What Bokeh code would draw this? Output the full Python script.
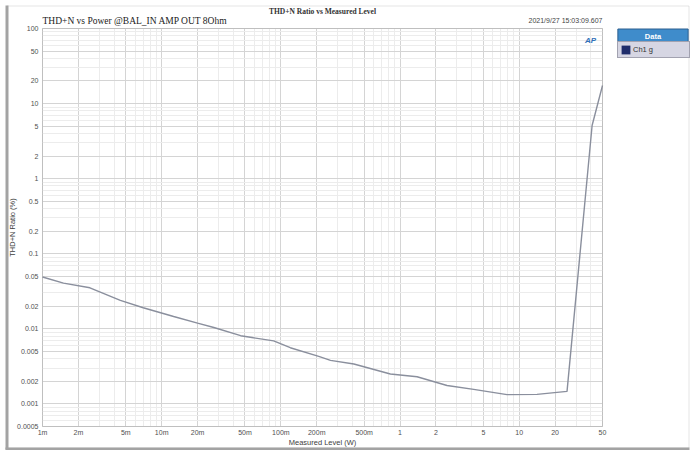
import math
from bokeh.plotting import figure
from bokeh.models import (Range1d, FixedTicker, CustomJSTickFormatter, Label,
                          BoxAnnotation, Legend, LegendItem, ColumnDataSource)
from bokeh.embed import file_html
from bokeh.resources import INLINE

# ---- data ----
level_w = [0.001, 0.0015, 0.0025, 0.0045, 0.007, 0.0126, 0.02, 0.0274, 0.046,
           0.059, 0.087, 0.12, 0.208, 0.261, 0.41, 0.83, 1.39, 2.48, 4.15,
           7.9, 14.1, 25.2, 40.9, 50]
thdn_pct = [0.049, 0.0406, 0.0352, 0.0239, 0.0191, 0.0146, 0.0119, 0.0104, 0.0081,
            0.0076, 0.0069, 0.0056, 0.0043, 0.0038, 0.0034, 0.0025, 0.0023, 0.00176,
            0.00156, 0.00133, 0.00134, 0.00147, 5.1, 17.4]

x_tick_values = [0.001, 0.002, 0.005, 0.01, 0.02, 0.05, 0.1, 0.2, 0.5, 1, 2, 5, 10, 20, 50]
x_tick_labels = ["1m", "2m", "5m", "10m", "20m", "50m", "100m", "200m", "500m",
                 "1", "2", "5", "10", "20", "50"]
y_tick_values = [0.0005, 0.001, 0.002, 0.005, 0.01, 0.02, 0.05, 0.1, 0.2, 0.5,
                 1, 2, 5, 10, 20, 50, 100]
y_tick_labels = ["0.0005", "0.001", "0.002", "0.005", "0.01", "0.02", "0.05", "0.1",
                 "0.2", "0.5", "1", "2", "5", "10", "20", "50", "100"]
minor_mults = [3, 4, 6, 7, 8, 9]

series_name = "Ch1 g"
legend_title = "Data"
chart_title = "THD+N Ratio vs Measured Level"
sub_title = "THD+N vs Power @BAL_IN AMP OUT 8Ohm"
time_stamp = "2021/9/27 15:03:09.607"
x_title = "Measured Level (W)"
y_title = "THD+N Ratio (%)"

# ---- layout (canvas pixels) ----
W, H = 694, 454
FL, FR, FT, FB = 42, 602, 28, 426   # plot-area edges

x_min, x_max = x_tick_values[0], x_tick_values[-1]
y_min, y_max = y_tick_values[0], y_tick_values[-1]

# the frame covers the whole canvas; ranges are widened so that the
# plot area [x_min, x_max] x [y_min, y_max] lands on the edges above
lx0, lx1 = math.log10(x_min), math.log10(x_max)
ppx = (FR - FL) / (lx1 - lx0)
ly0, ly1 = math.log10(y_min), math.log10(y_max)
ppy = (FB - FT) / (ly1 - ly0)
x_range = Range1d(10 ** (lx0 - FL / ppx), 10 ** (lx1 + (W - FR) / ppx))
y_range = Range1d(10 ** (ly0 - (H - FB) / ppy), 10 ** (ly1 + FT / ppy))

x_minor = [m * 10.0 ** k for k in range(-3, 2) for m in minor_mults if m * 10.0 ** k <= x_max]
y_minor = [m * 10.0 ** k for k in range(-4, 2) for m in minor_mults
           if y_min <= m * 10.0 ** k <= y_max]

p = figure(width=W, height=H, x_axis_type="log", y_axis_type="log",
           x_range=x_range, y_range=y_range,
           output_backend="svg", toolbar_location=None,
           min_border=0, min_border_left=0, min_border_right=0,
           min_border_top=0, min_border_bottom=0)
p.background_fill_color = "white"
p.border_fill_color = "white"
p.outline_line_color = None

fmt_code = """
const lt = Math.log10(tick);
for (let i = 0; i < vals.length; i++) {
  if (Math.abs(Math.log10(vals[i]) - lt) < 1e-6) return labels[i];
}
return "";
"""

for ax, vals, labs, minors, loc in (
        (p.xaxis[0], x_tick_values, x_tick_labels, x_minor, y_min),
        (p.yaxis[0], y_tick_values, y_tick_labels, y_minor, x_min)):
    ax.ticker = FixedTicker(ticks=vals, minor_ticks=minors)
    ax.formatter = CustomJSTickFormatter(args=dict(vals=vals, labels=labs), code=fmt_code)
    ax.bounds = (vals[0], vals[-1])
    ax.fixed_location = loc
    ax.axis_line_color = None
    ax.major_tick_line_color = None
    ax.minor_tick_line_color = None
    ax.major_tick_out = 0
    ax.major_tick_in = 0
    ax.minor_tick_out = 0
    ax.minor_tick_in = 0
    ax.major_label_text_font = "Liberation Sans"
    ax.major_label_text_font_size = "7px"
    ax.major_label_text_color = "#505050"
    ax.axis_label_text_font = "Liberation Sans"
    ax.axis_label_text_font_size = "7.5px"
    ax.axis_label_text_font_style = "normal"
    ax.axis_label_text_color = "#404040"

p.xaxis.axis_label = x_title
p.yaxis.axis_label = y_title
p.xaxis.major_label_standoff = 2
p.yaxis.major_label_standoff = 4
p.xaxis.axis_label_standoff = -1
p.yaxis.axis_label_standoff = -3

p.xgrid[0].cross_bounds = (y_min, y_max)
p.ygrid[0].cross_bounds = (x_min, x_max)
for g in (p.xgrid[0], p.ygrid[0]):
    g.grid_line_color = "#d4d4d4"
    g.grid_line_width = 1
    g.minor_grid_line_color = "#ececec"
    g.minor_grid_line_width = 1

# plot-area border
p.add_layout(BoxAnnotation(left=x_min, right=x_max, bottom=y_min, top=y_max,
                           fill_alpha=0, line_color="#8f8f8f", line_width=1))

src = ColumnDataSource(data=dict(x=level_w, y=thdn_pct))
line = p.line("x", "y", source=src, line_color="#8a8f9d", line_width=1.4)

# zero-size square renderer: only supplies the filled swatch of the legend
swatch = p.rect("x", "y", source=src, width=0, height=0,
                fill_color="#1f2d6b", line_alpha=0)


def canvas_box(l, r, t, b, **kw):
    return BoxAnnotation(left=l, right=r, top=t, bottom=b,
                         left_units="canvas", right_units="canvas",
                         top_units="canvas", bottom_units="canvas", **kw)


# outer frame of the whole chart
p.add_layout(canvas_box(6.5, 688.5, 5.5, 447.5, fill_alpha=0,
                        line_color="#a6a6a6", line_width=1))
p.add_layout(canvas_box(5, 8, 5, 449, fill_color="#a3a3a3", fill_alpha=1, line_alpha=0))
p.add_layout(canvas_box(5, 689, 447, 449.5, fill_color="#a3a3a3", fill_alpha=1,
                        line_alpha=0))

legend = Legend(items=[LegendItem(label=series_name, renderers=[swatch])],
                location=(617, H - 58), orientation="vertical",
                background_fill_color="#d6d6e3", background_fill_alpha=1,
                border_line_color="#6e6e7e", border_line_width=1,
                padding=2, margin=0, spacing=0, label_standoff=2,
                glyph_width=11, glyph_height=11, label_width=54, label_height=9,
                label_text_font="Liberation Sans", label_text_font_size="7.5px",
                label_text_color="#333333")
p.add_layout(legend)

# legend header
p.add_layout(Label(x=652.5, y=36, x_units="canvas", y_units="canvas", text=legend_title,
                   text_align="center", text_baseline="middle",
                   text_font="Liberation Sans", text_font_size="7.5px",
                   text_font_style="bold", text_color="white",
                   padding=dict(left=27, right=27, top=3, bottom=3),
                   background_fill_color="#3f8ccb",
                   border_line_color="#2c5f8f", border_line_width=1))

# header texts
p.add_layout(Label(x=322, y=6, x_units="canvas", y_units="canvas", text=chart_title,
                   text_align="center", text_baseline="top",
                   text_font="Liberation Serif", text_font_size="7.5px",
                   text_font_style="bold", text_color="#333333"))
p.add_layout(Label(x=FL, y=20, x_units="canvas", y_units="canvas", text=sub_title,
                   text_align="left", text_baseline="middle",
                   text_font="Liberation Serif", text_font_size="9.5px",
                   text_color="#222222"))
p.add_layout(Label(x=FR, y=20, x_units="canvas", y_units="canvas", text=time_stamp,
                   text_align="right", text_baseline="middle",
                   text_font="Liberation Sans", text_font_size="7px",
                   text_color="#444444"))
p.add_layout(Label(x=590, y=40, x_units="canvas", y_units="canvas", text="AP",
                   text_align="center", text_baseline="middle",
                   text_font="Liberation Sans", text_font_size="8px",
                   text_font_style="bold italic", text_color="#2f6fb8"))

open("out.html", "w").write(file_html(p, INLINE))
